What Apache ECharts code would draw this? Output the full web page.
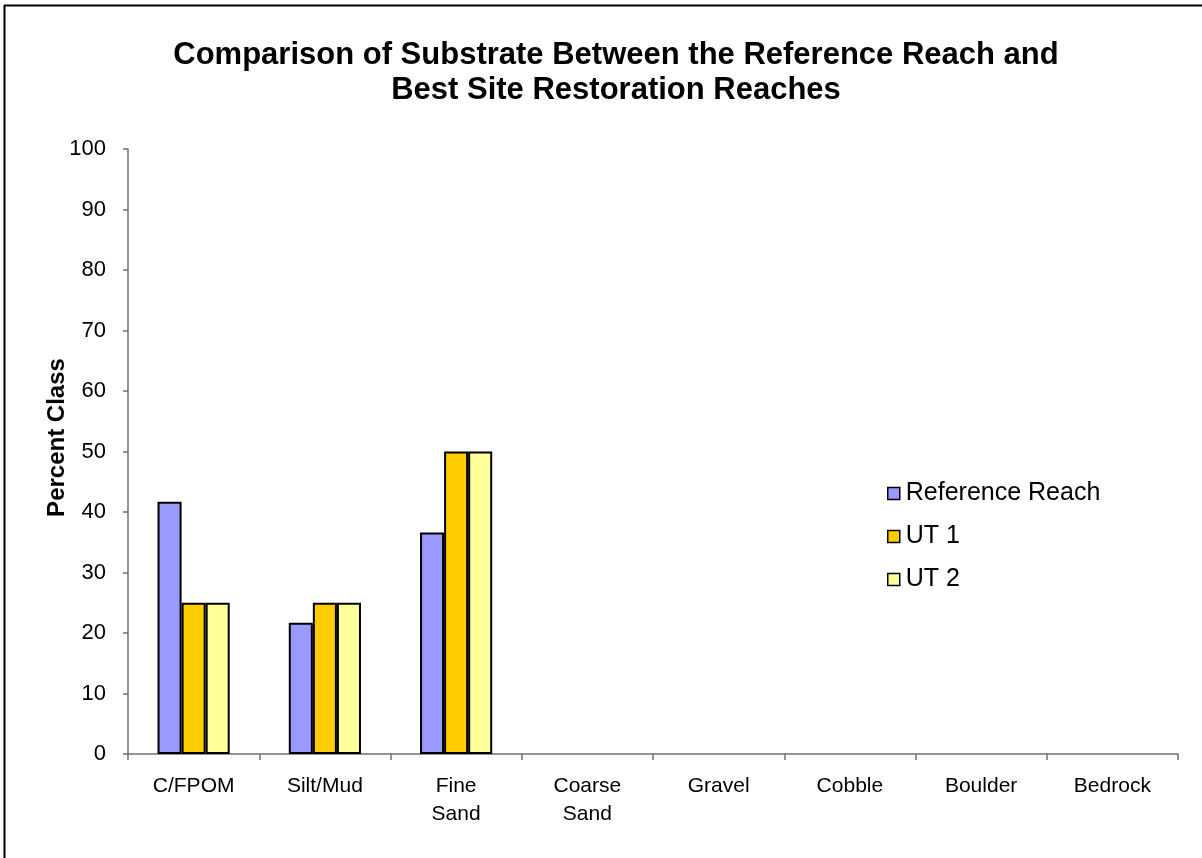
<!DOCTYPE html>
<html><head><meta charset="utf-8">
<script src="https://cdn.jsdelivr.net/npm/echarts@6/dist/echarts.min.js"></script>
<style>html,body{margin:0;padding:0;background:#fff}#c{width:1202px;height:858px}</style>
</head><body><div id="c"></div>
<script>
const categories = ['C/FPOM', 'Silt/Mud', 'Fine\nSand', 'Coarse\nSand', 'Gravel', 'Cobble', 'Boulder', 'Bedrock'];
const referenceReach = [41.7, 21.7, 36.6, 0, 0, 0, 0, 0];
const ut1 = [25, 25, 50, 0, 0, 0, 0, 0];
const ut2 = [25, 25, 50, 0, 0, 0, 0, 0];
const seriesNames = ['Reference Reach', 'UT 1', 'UT 2'];
const colors = ['#9999FF', '#FFCC00', '#FFFF99'];
const FONT = 'Liberation Sans, Arial, sans-serif';

const chart = echarts.init(document.getElementById('c'), null, {renderer: 'canvas'});
// zero values are not drawn as visible marks (no outline), as in the original
const mk = (name, data, color) => ({
  name, type: 'bar', data: data.map(v => (v === 0 ? '-' : v)), barGap: 0, barCategoryGap: '45%',
  itemStyle: {color, borderColor: '#000', borderWidth: 2},
  emphasis: {disabled: true}
});
chart.setOption({
  animation: false,
  title: {
    text: 'Comparison of Substrate Between the Reference Reach and\nBest Site Restoration Reaches',
    left: 616, top: 38, textAlign: 'center', padding: 0,
    textStyle: {fontFamily: FONT, fontWeight: 'bold', fontSize: 31, lineHeight: 35, color: '#000'}
  },
  legend: {
    orient: 'vertical', left: 887, top: 481, padding: 0,
    itemWidth: 12, itemHeight: 12, itemGap: 18,
    icon: 'rect',
    itemStyle: {borderColor: '#000', borderWidth: 1.5},
    textStyle: {fontFamily: FONT, fontSize: 25, color: '#000', padding: [0,0,0,1]},
    data: seriesNames
  },
  grid: {left: 128, right: 24, top: 149, bottom: 104, containLabel: false},
  xAxis: {
    type: 'category', data: categories,
    axisLine: {lineStyle: {color: '#707070', width: 1.5}},
    axisTick: {show: true, length: 6, lineStyle: {color: '#707070', width: 1.5}},
    axisLabel: {fontFamily: FONT, fontSize: 21, color: '#000', margin: 18, lineHeight: 28, interval: 0}
  },
  yAxis: {
    type: 'value', min: 0, max: 100, interval: 10,
    name: 'Percent Class', nameLocation: 'middle', nameGap: 59, nameMoveOverlap: false,
    nameTextStyle: {fontFamily: FONT, fontWeight: 'bold', fontSize: 24, color: '#000', padding: [0,0,0,28]},
    axisLine: {show: true, lineStyle: {color: '#707070', width: 1.5}},
    axisTick: {show: true, length: 5, lineStyle: {color: '#707070', width: 1.5}},
    splitLine: {show: false},
    axisLabel: {fontFamily: FONT, fontSize: 22, color: '#000', margin: 22}
  },
  series: [
    mk(seriesNames[0], referenceReach, colors[0]),
    mk(seriesNames[1], ut1, colors[1]),
    mk(seriesNames[2], ut2, colors[2])
  ],
  graphic: [
    {type: 'line', shape: {x1: 4.5, y1: 5, x2: 4.5, y2: 858}, style: {stroke: '#000', lineWidth: 2}},
    {type: 'line', shape: {x1: 4, y1: 5.5, x2: 1202, y2: 5.5}, style: {stroke: '#000', lineWidth: 2}}
  ]
});
</script></body></html>
